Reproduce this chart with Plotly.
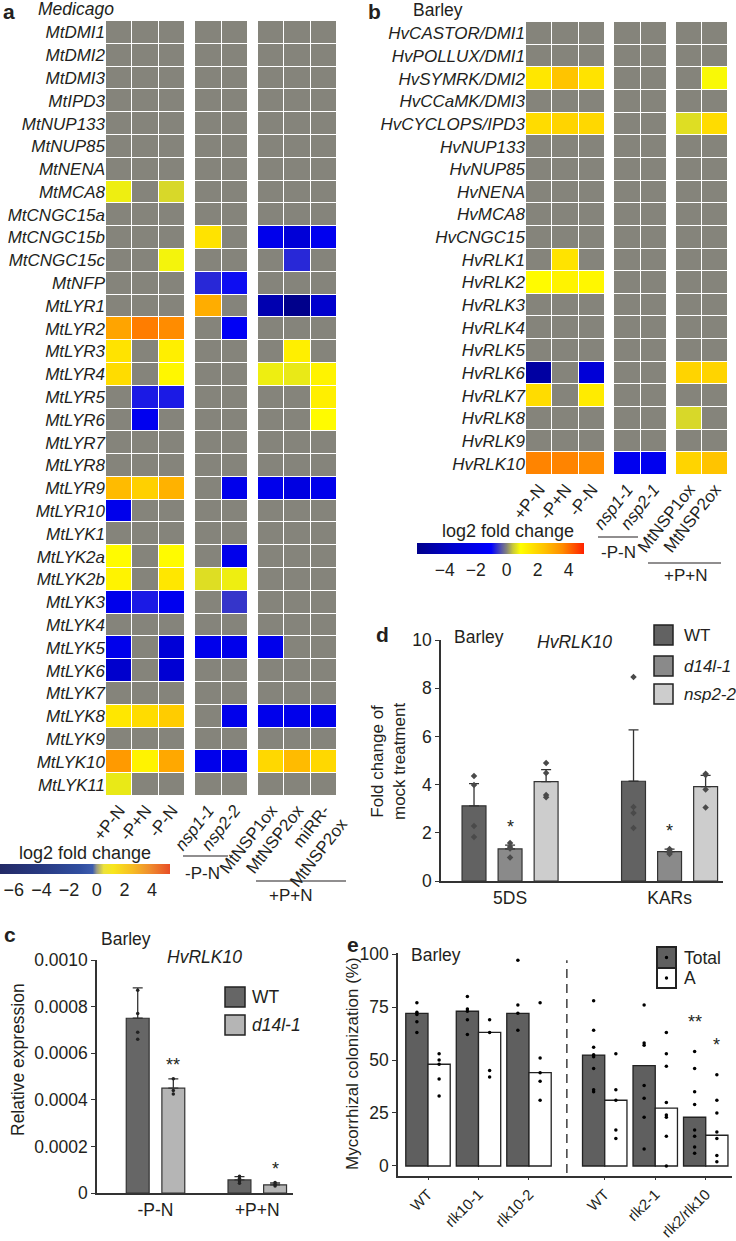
import plotly.graph_objects as go

W, H = 736, 1241
FONT = "Liberation Sans, Arial, Helvetica, sans-serif"
INK = "#231f20"


def px(x):
    return x / W


def py(y):
    return 1 - y / H


# ----------------------------------------------------------------- panel a
A_GENES = ["MtDMI1", "MtDMI2", "MtDMI3", "MtIPD3", "MtNUP133", "MtNUP85", "MtNENA",
           "MtMCA8", "MtCNGC15a", "MtCNGC15b", "MtCNGC15c", "MtNFP",
           "MtLYR1", "MtLYR2", "MtLYR3", "MtLYR4", "MtLYR5", "MtLYR6", "MtLYR7",
           "MtLYR8", "MtLYR9", "MtLYR10", "MtLYK1", "MtLYK2a", "MtLYK2b", "MtLYK3",
           "MtLYK4", "MtLYK5", "MtLYK6", "MtLYK7", "MtLYK8", "MtLYK9", "MtLYK10", "MtLYK11"]
A_COLS = ["+P-N", "-P+N", "-P-N", "nsp1-1", "nsp2-2", "MtNSP1ox", "MtNSP2ox", "miRR-MtNSP2ox"]
A_COL_LABELS = ["+P-N", "-P+N", "-P-N", "<i>nsp1-1</i>", "<i>nsp2-2</i>",
                "MtNSP1ox", "MtNSP2ox", "miRR-<br>MtNSP2ox"]
A_BLOCKS = [3, 2, 3]
# log2 fold change; 0 = not significant (grey)
A_LOG2FC = [
    [0, 0, 0, 0, 0, 0, 0, 0],
    [0, 0, 0, 0, 0, 0, 0, 0],
    [0, 0, 0, 0, 0, 0, 0, 0],
    [0, 0, 0, 0, 0, 0, 0, 0],
    [0, 0, 0, 0, 0, 0, 0, 0],
    [0, 0, 0, 0, 0, 0, 0, 0],
    [0, 0, 0, 0, 0, 0, 0, 0],
    [0.75, 0, 0.55, 0, 0, 0, 0, 0],
    [0, 0, 0, 0, 0, 0, 0, 0],
    [0, 0, 0, 1.6, 0, -2.0, -3.0, -1.8],
    [0, 0, 0.8, 0, 0, 0, -0.7, 0],
    [0, 0, 0, -0.7, -0.9, 0, 0, 0],
    [0, 0, 0, 2.9, 0, -4.5, -5.8, -3.5],
    [3.1, 3.8, 3.6, 0, -1.5, 0, 0, 0],
    [1.6, 0, 1.3, 0, 0, 0, 1.3, 0],
    [1.8, 0, 1.1, 0, 0, 0.75, 0.7, 1.2],
    [0, -0.8, -0.8, 0, 0, 0, 0, 1.3],
    [0, -1.8, 0, 0, 0, 0, 0, 1.0],
    [0, 0, 0, 0, 0, 0, 0, 0],
    [0, 0, 0, 0, 0, 0, 0, 0],
    [2.6, 2.1, 2.8, 0, -2.0, -2.0, -2.5, -2.0],
    [-2.0, 0, 0, 0, 0, 0, 0, 0],
    [0, 0, 0, 0, 0, 0, 0, 0],
    [1.0, 0, 1.0, 0, -2.0, 0, 0, 0],
    [1.2, 0, 1.5, 0.6, 0.75, 0, 0, 0],
    [-2.0, -0.8, -1.8, 0, -0.6, 0, 0, 0],
    [0, 0, 0, 0, 0, 0, 0, 0],
    [-2.0, 0, -3.0, -2.0, -2.0, -2.0, 0, 0],
    [-3.5, 0, -3.2, 0, 0, 0, 0, 0],
    [0, 0, 0, 0, 0, 0, 0, 0],
    [1.5, 1.8, 2.2, 0, -2.0, -2.0, -2.0, -2.0],
    [0, 0, 0, 0, 0, 0, 0, 0],
    [3.3, 1.2, 3.0, -2.0, -2.0, 1.9, 2.6, 1.9],
    [0.7, 0, 0, 0, 0, 0, 0, 0],
]
A_CBAR_TICKS = [-6, -4, -2, 0, 2, 4]

# ----------------------------------------------------------------- panel b
B_GENES = ["HvCASTOR/DMI1", "HvPOLLUX/DMI1", "HvSYMRK/DMI2", "HvCCaMK/DMI3", "HvCYCLOPS/IPD3",
           "HvNUP133", "HvNUP85", "HvNENA", "HvMCA8", "HvCNGC15",
           "HvRLK1", "HvRLK2", "HvRLK3", "HvRLK4", "HvRLK5", "HvRLK6", "HvRLK7", "HvRLK8",
           "HvRLK9", "HvRLK10"]
B_COLS = ["+P-N", "-P+N", "-P-N", "nsp1-1", "nsp2-1", "MtNSP1ox", "MtNSP2ox"]
B_COL_LABELS = ["+P-N", "-P+N", "-P-N", "<i>nsp1-1</i>", "<i>nsp2-1</i>", "MtNSP1ox", "MtNSP2ox"]
B_BLOCKS = [3, 2, 2]
B_LOG2FC = [
    [0, 0, 0, 0, 0, 0, 0],
    [0, 0, 0, 0, 0, 0, 0],
    [1.5, 2.4, 1.6, 0, 0, 0, 0.85],
    [0, 0, 0, 0, 0, 0, 0],
    [1.8, 2.0, 1.9, 0, 0, 0.6, 1.8],
    [0, 0, 0, 0, 0, 0, 0],
    [0, 0, 0, 0, 0, 0, 0],
    [0, 0, 0, 0, 0, 0, 0],
    [0, 0, 0, 0, 0, 0, 0],
    [0, 0, 0, 0, 0, 0, 0],
    [0, 1.6, 0, 0, 0, 0, 0],
    [1.0, 1.2, 1.1, 0, 0, 0, 0],
    [0, 0, 0, 0, 0, 0, 0],
    [0, 0, 0, 0, 0, 0, 0],
    [0, 0, 0, 0, 0, 0, 0],
    [-5.0, 0, -3.0, 0, 0, 2.0, 2.0],
    [1.8, 0, 1.4, 0, 0, 0, 0],
    [0, 0, 0, 0, 0, 0.55, 0],
    [0, 0, 0, 0, 0, 0, 0],
    [3.7, 3.7, 3.6, -1.8, -1.8, 2.0, 2.4],
]
B_CBAR_TICKS = [-4, -2, 0, 2, 4]

# ----------------------------------------------------------------- panel c
C_GROUPS = ["-P-N", "+P+N"]
C_TICKS = [0, 0.0002, 0.0004, 0.0006, 0.0008, 0.0010]
C_TICK_TEXT = ["0", "0.0002", "0.0004", "0.0006", "0.0008", "0.0010"]
C_WT_MEAN = [0.00075, 0.000056]
C_WT_ERR = [0.00013, 0.000014]
C_WT_POINTS = [[0.00087, 0.00077, 0.00069, 0.00066], [0.000072, 0.000062, 0.000052, 0.000042]]
C_D14_MEAN = [0.00045, 0.000035]
C_D14_ERR = [0.00004, 0.000008]
C_D14_POINTS = [[0.00049, 0.00044, 0.000425], [0.000045, 0.000036, 0.00003]]
C_D14_SIG = ["**", "*"]

# ----------------------------------------------------------------- panel d
D_GROUPS = ["5DS", "KARs"]
D_TICKS = [0, 2, 4, 6, 8, 10]
D_WT_MEAN = [3.12, 4.14]
D_WT_ERR = [0.92, 2.13]
D_WT_POINTS = [[4.36, 3.98, 2.28, 1.83], [8.46, 3.07, 2.82, 2.2]]
D_D14_MEAN = [1.33, 1.22]
D_D14_ERR = [0.16, 0.1]
D_D14_POINTS = [[1.58, 1.41, 1.35, 0.97], [1.33, 1.25, 1.18, 1.12]]
D_D14_SIG = ["*", "*"]
D_NSP_MEAN = [4.12, 3.92]
D_NSP_ERR = [0.5, 0.46]
D_NSP_POINTS = [[4.9, 4.48, 3.57, 3.48], [4.45, 4.4, 3.8, 3.05]]

# ----------------------------------------------------------------- panel e
E_GENOTYPES = ["WT", "rlk10-1", "rlk10-2", "WT", "rlk2-1", "rlk2/rlk10"]
E_EXPERIMENT = [1, 1, 1, 2, 2, 2]
E_TICKS = [0, 25, 50, 75, 100]
E_TOTAL = [72, 73, 72, 52.3, 47.3, 23]
E_A = [48, 63, 44, 31, 27.3, 14.5]
E_TOTAL_POINTS = [
    [77, 72.5, 71.5, 68, 63],
    [80, 74, 73, 69, 62],
    [97, 76, 72, 64],
    [78, 64, 56, 52.5, 51.5, 46, 36, 35],
    [76, 58, 57, 38, 32, 23, 8],
    [54, 46, 35, 29, 17, 14, 9, 6],
]
E_A_POINTS = [
    [53, 50, 48, 41, 33],
    [69, 63, 45, 42],
    [77, 51, 44, 40, 31],
    [53, 36, 31, 17, 13],
    [63, 53, 47, 30, 24, 23, 14, 0],
    [43, 31, 25, 16, 13, 5, 2],
]
E_TOTAL_SIG = ["", "", "", "", "", "**"]
E_A_SIG = ["", "", "", "", "", "*"]

# ----------------------------------------------------------------- styles
CELL_LO, CELL_HI = -5.8, 5.0
CELL_STOPS = [(-5.8, "#00008b"), (-3.5, "#0000cd"), (-1.0, "#0000ff"), (0.0, "#85847b"),
              (0.4, "#c8c83a"), (0.9, "#ffff00"), (2.5, "#ffc000"), (3.6, "#ff8c00"),
              (5.0, "#ff2000")]
A_BAR_LO, A_BAR_HI = -7.0, 5.3
A_BAR_STOPS = [(-7.0, "#232a66"), (-4.0, "#283a82"), (-1.2, "#304ea0"), (-0.3, "#3d5cae"),
               (0.0, "#9c9c84"), (0.5, "#ece23a"), (1.2, "#f8e61c"), (2.6, "#f6bc24"),
               (3.9, "#ef8a2e"), (5.3, "#e84e26")]


def scale(stops, lo, hi):
    return [[(v - lo) / (hi - lo), c] for v, c in stops]


fig = go.Figure()


def add_heatmap(vals, genes, cols, blocks, xaxes, yaxis):
    start = 0
    for n, xa in zip(blocks, xaxes):
        fig.add_trace(go.Heatmap(
            z=[row[start:start + n] for row in vals], x=cols[start:start + n], y=genes,
            xaxis=xa, yaxis=yaxis, coloraxis="coloraxis", xgap=1, ygap=1,
            hovertemplate="%{y} %{x}: %{z}<extra></extra>"))
        start += n


add_heatmap(A_LOG2FC, A_GENES, A_COLS, A_BLOCKS, ["x", "x2", "x3"], "y")
add_heatmap(B_LOG2FC, B_GENES, B_COLS, B_BLOCKS, ["x4", "x5", "x6"], "y2")

# colour bar for panel a (its own palette)
fig.add_trace(go.Scatter(
    x=[0, 1], y=[0, 1], xaxis="x10", yaxis="y6", mode="markers",
    marker=dict(color=[A_BAR_LO, A_BAR_HI], coloraxis="coloraxis2", size=1, opacity=0),
    hoverinfo="skip", showlegend=False))


def add_bar_series(xa, ya, means, errs, points, color, center, width, pt_style, err_w):
    idx = list(range(len(means)))
    fig.add_trace(go.Bar(
        x=idx, y=means, xaxis=xa, yaxis=ya, width=width, offset=center - width / 2,
        marker=dict(color=color, line=dict(color="#333333", width=1.2)),
        error_y=dict(type="data", symmetric=False, array=errs, arrayminus=[0] * len(errs),
                     color="#333333", thickness=1.3, width=err_w),
        showlegend=False, hoverinfo="y"))
    xs, ys = [], []
    for i, pts in enumerate(points):
        for p in pts:
            xs.append(i + center)
            ys.append(p)
    fig.add_trace(go.Scatter(x=xs, y=ys, xaxis=xa, yaxis=ya, mode="markers",
                             marker=pt_style, showlegend=False, hoverinfo="y"))


DOT_C = dict(color="#222222", size=3.5)
DOT_D = dict(color="#4a4a4a", size=5, symbol="diamond")
DOT_E = dict(color="#000000", size=3.5)

# panel c
add_bar_series("x7", "y3", C_WT_MEAN, C_WT_ERR, C_WT_POINTS, "#666666", -0.175, 0.225, DOT_C, 5)
add_bar_series("x7", "y3", C_D14_MEAN, C_D14_ERR, C_D14_POINTS, "#b5b5b5", 0.175, 0.225, DOT_C, 5)
# panel d
add_bar_series("x8", "y4", D_WT_MEAN, D_WT_ERR, D_WT_POINTS, "#626262", -0.226, 0.15, DOT_D, 5)
add_bar_series("x8", "y4", D_D14_MEAN, D_D14_ERR, D_D14_POINTS, "#8a8a8a", 0.0, 0.15, DOT_D, 5)
add_bar_series("x8", "y4", D_NSP_MEAN, D_NSP_ERR, D_NSP_POINTS, "#cdcdcd", 0.226, 0.15, DOT_D, 5)

# panel e
E_X = [i + 0.5 * (e - 1) for i, e in enumerate(E_EXPERIMENT)]
for vals, pts, color, off in [(E_TOTAL, E_TOTAL_POINTS, "#5f5f5f", -0.44),
                              (E_A, E_A_POINTS, "#ffffff", 0.0)]:
    fig.add_trace(go.Bar(x=E_X, y=vals, xaxis="x9", yaxis="y5", width=0.44, offset=off,
                         marker=dict(color=color, line=dict(color="#222222", width=1.3)),
                         showlegend=False, hoverinfo="y"))
    xs, ys = [], []
    for xv, pp in zip(E_X, pts):
        for p in pp:
            xs.append(xv + off + 0.22)
            ys.append(p)
    fig.add_trace(go.Scatter(x=xs, y=ys, xaxis="x9", yaxis="y5", mode="markers",
                             marker=DOT_E, showlegend=False, hoverinfo="y"))

# ----------------------------------------------------------------- layout
annotations = []
shapes = []


def text(x, y, s, size=17, xanchor="left", yanchor="middle", angle=0, color=INK):
    annotations.append(dict(x=px(x), y=py(y), xref="paper", yref="paper", text=s,
                            showarrow=False, xanchor=xanchor, yanchor=yanchor,
                            textangle=angle, font=dict(size=size, color=color, family=FONT)))


def hline(x0, x1, y, width=1.2):
    shapes.append(dict(type="line", xref="paper", yref="paper", x0=px(x0), x1=px(x1),
                       y0=py(y), y1=py(y), line=dict(color=INK, width=width)))


def box(x0, y0, x1, y1, fill, width=1.5):
    shapes.append(dict(type="rect", xref="paper", yref="paper", x0=px(x0), x1=px(x1),
                       y0=py(y1), y1=py(y0), fillcolor=fill, line=dict(color="#222222", width=width)))


# panel letters / titles
text(1, 11, "<b>a</b>", 21)
text(36, 9, "<i>Medicago</i>", 17.5)
text(366, 11, "<b>b</b>", 21)
text(411, 10, "Barley", 17.5)
text(2, 934, "<b>c</b>", 21)
text(99, 939, "Barley", 17.5)
text(165, 957, "<i>HvRLK10</i>", 17.5)
text(374, 634, "<b>d</b>", 21)
text(452, 637, "Barley", 17.5)
text(535, 642, "<i>HvRLK10</i>", 17.5)
text(345, 944, "<b>e</b>", 21)
text(409, 955, "Barley", 17.5)

# heatmap group labels
text(85, 853, "log2 fold change", 18, xanchor="center")
hline(183, 228, 856)
text(203, 873, "-P-N", 17, xanchor="center")
hline(256, 346, 881)
text(290, 895, "+P+N", 17, xanchor="center")
text(508, 531, "log2 fold change", 18, xanchor="center")
hline(598, 638, 537)
text(618, 552, "-P-N", 17, xanchor="center")
hline(648, 721, 563)
text(685, 575, "+P+N", 17, xanchor="center")

# axis titles
text(18, 1060, "Relative expression", 17.5, xanchor="center", angle=-90)
text(388, 762, "Fold change of<br>mock treatment", 17, xanchor="center", angle=-90)
text(352, 1064, "Mycorrhizal colonization (%)", 17, xanchor="center", angle=-90)

# legends (c, d, e)
box(225, 987, 245, 1007, "#666666")
box(225, 1015, 245, 1035, "#b5b5b5")
text(250, 997, "WT", 17.5)
text(250, 1025, "<i>d14l-1</i>", 17.5)
box(654, 625, 673, 645, "#626262")
box(654, 656, 673, 676, "#8a8a8a")
box(654, 684, 673, 704, "#cdcdcd")
text(682, 635, "WT", 17)
text(682, 666, "<i>d14l-1</i>", 17)
text(682, 694, "<i>nsp2-2</i>", 17)
box(657, 947, 676, 968, "#5f5f5f", 2)
box(657, 968, 676, 988, "#ffffff", 2)
for yy in (957.5, 978):
    shapes.append(dict(type="circle", xref="paper", yref="paper", x0=px(664.8), x1=px(668.2),
                       y0=py(yy + 1.7), y1=py(yy - 1.7), fillcolor="#000000", line=dict(width=0)))
text(682, 958, "Total", 17.5)
text(682, 978, "A", 17.5)

# significance marks
for i, s in enumerate(C_D14_SIG):
    annotations.append(dict(x=i + 0.175, y=C_D14_MEAN[i] + C_D14_ERR[i], xref="x7", yref="y3",
                            text=s, showarrow=False, yanchor="bottom", yshift=2,
                            font=dict(size=18, color=INK, family=FONT)))
for i, s in enumerate(D_D14_SIG):
    annotations.append(dict(x=i, y=D_D14_MEAN[i] + D_D14_ERR[i], xref="x8", yref="y4",
                            text=s, showarrow=False, yanchor="bottom", yshift=6,
                            font=dict(size=18, color=INK, family=FONT)))
for sig, pts, off in [(E_TOTAL_SIG, E_TOTAL_POINTS, -0.22), (E_A_SIG, E_A_POINTS, 0.22)]:
    for xv, s, pp in zip(E_X, sig, pts):
        if s:
            annotations.append(dict(x=xv + off, y=max(pp), xref="x9", yref="y5", text=s,
                                    showarrow=False, yanchor="bottom", yshift=18,
                                    font=dict(size=18, color=INK, family=FONT)))

# dashed separator between the two experiments in e
split = (E_X[2] + E_X[3]) / 2
shapes.append(dict(type="line", xref="x9", yref="y5", x0=split, x1=split, y0=-3.3, y1=97,
                   line=dict(color="#222222", width=1.3, dash="9px,6px")))

heat_x = dict(showgrid=False, zeroline=False, ticks="", showline=False, tickangle=-52,
              tickfont=dict(size=17, color=INK, family=FONT), fixedrange=True)


def heat_xaxis(dom, anchor, cols, labels):
    d = dict(heat_x)
    d.update(domain=[px(dom[0]), px(dom[1])], anchor=anchor, tickmode="array",
             tickvals=cols, ticktext=labels)
    return d


def heat_yaxis(dom, anchor, genes):
    return dict(domain=[py(dom[1]), py(dom[0])], anchor=anchor, autorange="reversed",
                showgrid=False, zeroline=False, ticks="", showline=False, tickmode="array",
                tickvals=genes, ticktext=["<i>%s</i>" % g for g in genes],
                tickfont=dict(size=17, color=INK, family=FONT), fixedrange=True)


axis_line = dict(showline=True, linecolor="#333333", linewidth=1.5, showgrid=False,
                 zeroline=False, tickfont=dict(size=17.5, color=INK, family=FONT),
                 fixedrange=True)

layout = dict(
    width=W, height=H, margin=dict(l=0, r=0, t=0, b=0, autoexpand=False),
    paper_bgcolor="#ffffff", plot_bgcolor="#ffffff",
    font=dict(family=FONT, color=INK),
    showlegend=False,
    coloraxis=dict(cmin=CELL_LO, cmax=CELL_HI, colorscale=scale(CELL_STOPS, CELL_LO, CELL_HI),
                   colorbar=dict(orientation="h", x=px(500.5), xanchor="center", y=py(543),
                                 yanchor="top", len=167, lenmode="pixels", thickness=11,
                                 outlinewidth=0, tickvals=B_CBAR_TICKS, ticks="",
                                 xpad=0, ypad=0,
                                 tickfont=dict(size=17.5, color=INK, family=FONT))),
    coloraxis2=dict(cmin=A_BAR_LO, cmax=A_BAR_HI, colorscale=scale(A_BAR_STOPS, A_BAR_LO, A_BAR_HI),
                    colorbar=dict(orientation="h", x=px(85), xanchor="center", y=py(864),
                                  yanchor="top", len=170, lenmode="pixels", thickness=10,
                                  outlinewidth=0, tickvals=A_CBAR_TICKS, ticks="",
                                  xpad=0, ypad=0,
                                  tickfont=dict(size=18, color=INK, family=FONT))),
    xaxis=heat_xaxis((106, 185), "y", A_COLS[0:3], A_COL_LABELS[0:3]),
    xaxis2=heat_xaxis((195, 248), "y", A_COLS[3:5], A_COL_LABELS[3:5]),
    xaxis3=heat_xaxis((258, 337), "y", A_COLS[5:8], A_COL_LABELS[5:8]),
    yaxis=heat_yaxis((21, 796), "x", A_GENES),
    xaxis4=heat_xaxis((526, 605), "y2", B_COLS[0:3], B_COL_LABELS[0:3]),
    xaxis5=heat_xaxis((614, 667), "y2", B_COLS[3:5], B_COL_LABELS[3:5]),
    xaxis6=heat_xaxis((676, 728), "y2", B_COLS[5:7], B_COL_LABELS[5:7]),
    yaxis2=heat_yaxis((22, 475), "x4", B_GENES),
    xaxis7=dict(axis_line, domain=[px(97), px(293)], anchor="y3", range=[-0.575, 1.351],
                tickmode="array", tickvals=[0, 1], ticktext=C_GROUPS, ticks=""),
    yaxis3=dict(axis_line, domain=[py(1193), py(960)], anchor="x7", range=[0, 0.001],
                tickmode="array", tickvals=C_TICKS, ticktext=C_TICK_TEXT, ticks="outside",
                ticklen=4, tickcolor="#333333"),
    xaxis8=dict(axis_line, domain=[px(441), px(723)], anchor="y4", range=[-0.433, 1.335],
                tickmode="array", tickvals=[0, 1], ticktext=D_GROUPS, ticks=""),
    yaxis4=dict(axis_line, domain=[py(881), py(640)], anchor="x8", range=[0, 10],
                tickmode="array", tickvals=D_TICKS, ticks="outside", ticklen=4,
                tickcolor="#333333"),
    xaxis9=dict(axis_line, domain=[px(398), px(732)], anchor="y5", range=[0.406 - 1, 6.02],
                tickmode="array", tickvals=E_X, ticktext=E_GENOTYPES, ticks="outside",
                ticklen=2, tickcolor="#333333", tickangle=-45,
                tickfont=dict(size=15, color=INK, family=FONT)),
    yaxis5=dict(axis_line, domain=[py(1176), py(953)], anchor="x9", range=[-4.72, 100.47],
                tickmode="array", tickvals=E_TICKS, ticks="outside", ticklen=4,
                tickcolor="#333333"),
    xaxis10=dict(domain=[0, 0.01], anchor="y6", visible=False),
    yaxis6=dict(domain=[0, 0.01], anchor="x10", visible=False),
    annotations=annotations,
    shapes=shapes,
)
fig.update_layout(**layout)
fig.write_html("out.html", config={"displayModeBar": False},
               post_script="document.body.style.margin='0px';document.body.style.padding='0px';")
